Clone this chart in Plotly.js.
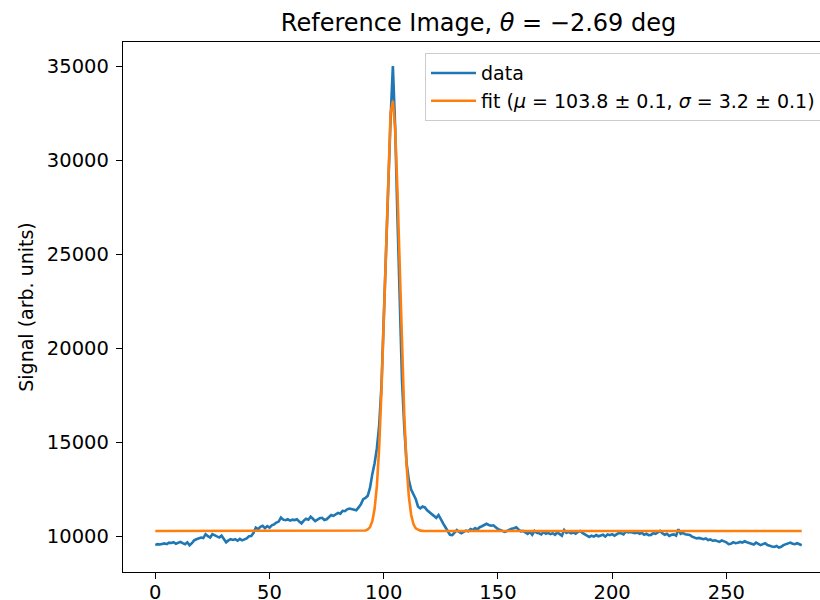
<!DOCTYPE html>
<html>
<head>
<meta charset="utf-8">
<script src="https://cdn.plot.ly/plotly-3.0.1.min.js"></script>
<style>
html, body { margin: 0; padding: 0; overflow: hidden; background: #fff; width: 820px; height: 600px; }
#chart { width: 820px; height: 600px; overflow: hidden; }
</style>
</head>
<body>
<div id="chart"></div>
<script>
// Measured signal (pixel index 0..283)
const dataSignal = [
  9560, 9600, 9580, 9620, 9640, 9600, 9680, 9660, 9700, 9620,
  9680, 9720, 9650, 9600, 9700, 9540, 9650, 9800, 9860, 9900,
  9950, 9920, 10130, 10020, 9950, 10130, 10080, 10000, 9950, 10050,
  9870, 9700, 9800, 9860, 9820, 9860, 9780, 9880, 9800, 9850,
  9900, 10020, 10030, 10200, 10480, 10400, 10520, 10570, 10450, 10560,
  10480, 10600, 10650, 10745, 10800, 11010, 10900, 10870, 10920, 10850,
  10900, 10880, 10920, 10800, 10700, 10850, 10950, 10900, 11060, 10950,
  10820, 10900, 10980, 11000, 10880, 10920, 11050, 11150, 11100, 11200,
  11260, 11220, 11370, 11350, 11450, 11490, 11470, 11430, 11400, 11550,
  11720, 11990, 12050, 12170, 12600, 13320, 13900, 14700, 15900, 18000,
  21500, 25500, 29500, 32200, 35000, 31800, 27000, 22000, 18300, 15800,
  13900, 13000, 12500, 12250, 12000, 11600, 11500, 11600, 11550, 11400,
  11300, 11200, 11050, 11000, 11150, 10900, 10700, 10500, 10300, 10100,
  10080, 10200, 10350, 10250, 10180, 10250, 10320, 10280, 10400, 10350,
  10450, 10380, 10500, 10550, 10600, 10680, 10620, 10580, 10600, 10480,
  10400, 10350, 10280, 10250, 10300, 10380, 10420, 10450, 10500, 10380,
  10280, 10300, 10220, 10150, 10250, 10100, 10300, 10200, 10180, 10120,
  10250, 10150, 10200, 10130, 10180, 10100, 10220, 10150, 10050, 10350,
  10200, 10250, 10180, 10220, 10150, 10250, 10300, 10200, 10100, 10050,
  9980, 10050, 10000, 10080, 10020, 10040, 10100, 10000, 10120, 10080,
  10130, 10050, 10150, 10200, 10180, 10120, 10270, 10220, 10250, 10200,
  10180, 10220, 10150, 10200, 10100, 10150, 10080, 10090, 10180, 10150,
  10220, 10300, 10180, 10100, 10150, 10040, 10100, 10120, 10050, 10390,
  10150, 10200, 10120, 10100, 10090, 10000, 9950, 9900, 9930, 9880,
  9860, 9900, 9820, 9850, 9780, 9800, 9770, 9720, 9800, 9750,
  9700, 9600, 9620, 9700, 9650, 9680, 9720, 9680, 9750, 9700,
  9650, 9600, 9580, 9680, 9620, 9550, 9600, 9650, 9550, 9500,
  9480, 9450, 9500, 9420, 9460, 9550, 9600, 9650, 9680, 9620,
  9600, 9650, 9580, 9540
];
const dataX = dataSignal.map((_, i) => i);

// Fitted curve
const fitX = [0, 90, 92, 93, 94, 95, 96, 97, 98, 99, 100, 101, 102, 103, 104, 105, 106, 107, 108, 109, 110, 111, 112, 113, 114, 116, 118, 283];
const fitY = [10300, 10300, 10325, 10377, 10510, 10822, 11475, 12695, 14730, 17735, 21610, 25920, 29850, 32490, 33150, 31640, 28390, 24190, 19980, 16420, 13800, 12120, 11160, 10667, 10442, 10316, 10300, 10300];

const xTicks = [0, 50, 100, 150, 200, 250];
const yTicks = [10000, 15000, 20000, 25000, 30000, 35000];

const titleText = 'Reference Image, <i>θ</i> = −2.69 deg';
const yLabel = 'Signal (arb. units)';
const seriesNames = ['data', 'fit (<i>μ</i> = 103.8 ± 0.1, <i>σ</i> = 3.2 ± 0.1)'];

const FONT = 'DejaVu Sans, Liberation Sans, sans-serif';

const traces = [
  { x: dataX, y: dataSignal, type: 'scatter', mode: 'lines', name: seriesNames[0],
    line: { color: '#1f77b4', width: 2.6 } },
  { x: fitX, y: fitY, type: 'scatter', mode: 'lines', name: seriesNames[1],
    line: { color: '#ff7f0e', width: 2.6 } }
];

const layout = {
  width: 820, height: 600,
  margin: { l: 123, r: 0, t: 42, b: 28, autoexpand: false },
  paper_bgcolor: '#ffffff', plot_bgcolor: '#ffffff',
  font: { family: FONT, size: 19, color: '#000000' },
  title: { text: titleText, font: { family: FONT, size: 24, color: '#000' },
           x: 478.5 / 820, xref: 'container', xanchor: 'center', y: 0.963, yref: 'container', yanchor: 'middle' },
  xaxis: {
    range: [-14.15, 291.0], tickvals: xTicks, ticktext: xTicks.map(String),
    showgrid: false, zeroline: false, showline: true, mirror: true,
    linecolor: '#000', linewidth: 1.2, ticks: 'outside', ticklen: 6, tickcolor: '#000',
    ticklabelstandoff: -4,
    tickfont: { family: FONT, size: 19.5, color: '#000' }
  },
  yaxis: {
    range: [8120, 36280], tickvals: yTicks, ticktext: yTicks.map(String),
    showgrid: false, zeroline: false, showline: true, mirror: false,
    linecolor: '#000', linewidth: 1.2, ticks: 'outside', ticklen: 6, tickcolor: '#000',
    ticklabelstandoff: 3,
    tickfont: { family: FONT, size: 19.5, color: '#000' },
    title: { text: yLabel, font: { family: FONT, size: 19, color: '#000' }, standoff: 8 }
  },
  showlegend: true,
  legend: {
    x: (425 - 123) / 697, y: 0.979, xanchor: 'left', yanchor: 'top',
    bgcolor: 'rgba(255,255,255,0.8)', bordercolor: '#cccccc', borderwidth: 1,
    itemwidth: 45,
    font: { family: FONT, size: 19, color: '#000' }
  }
};

Plotly.newPlot('chart', traces, layout, { displayModeBar: false, staticPlot: true });
</script>
</body>
</html>
